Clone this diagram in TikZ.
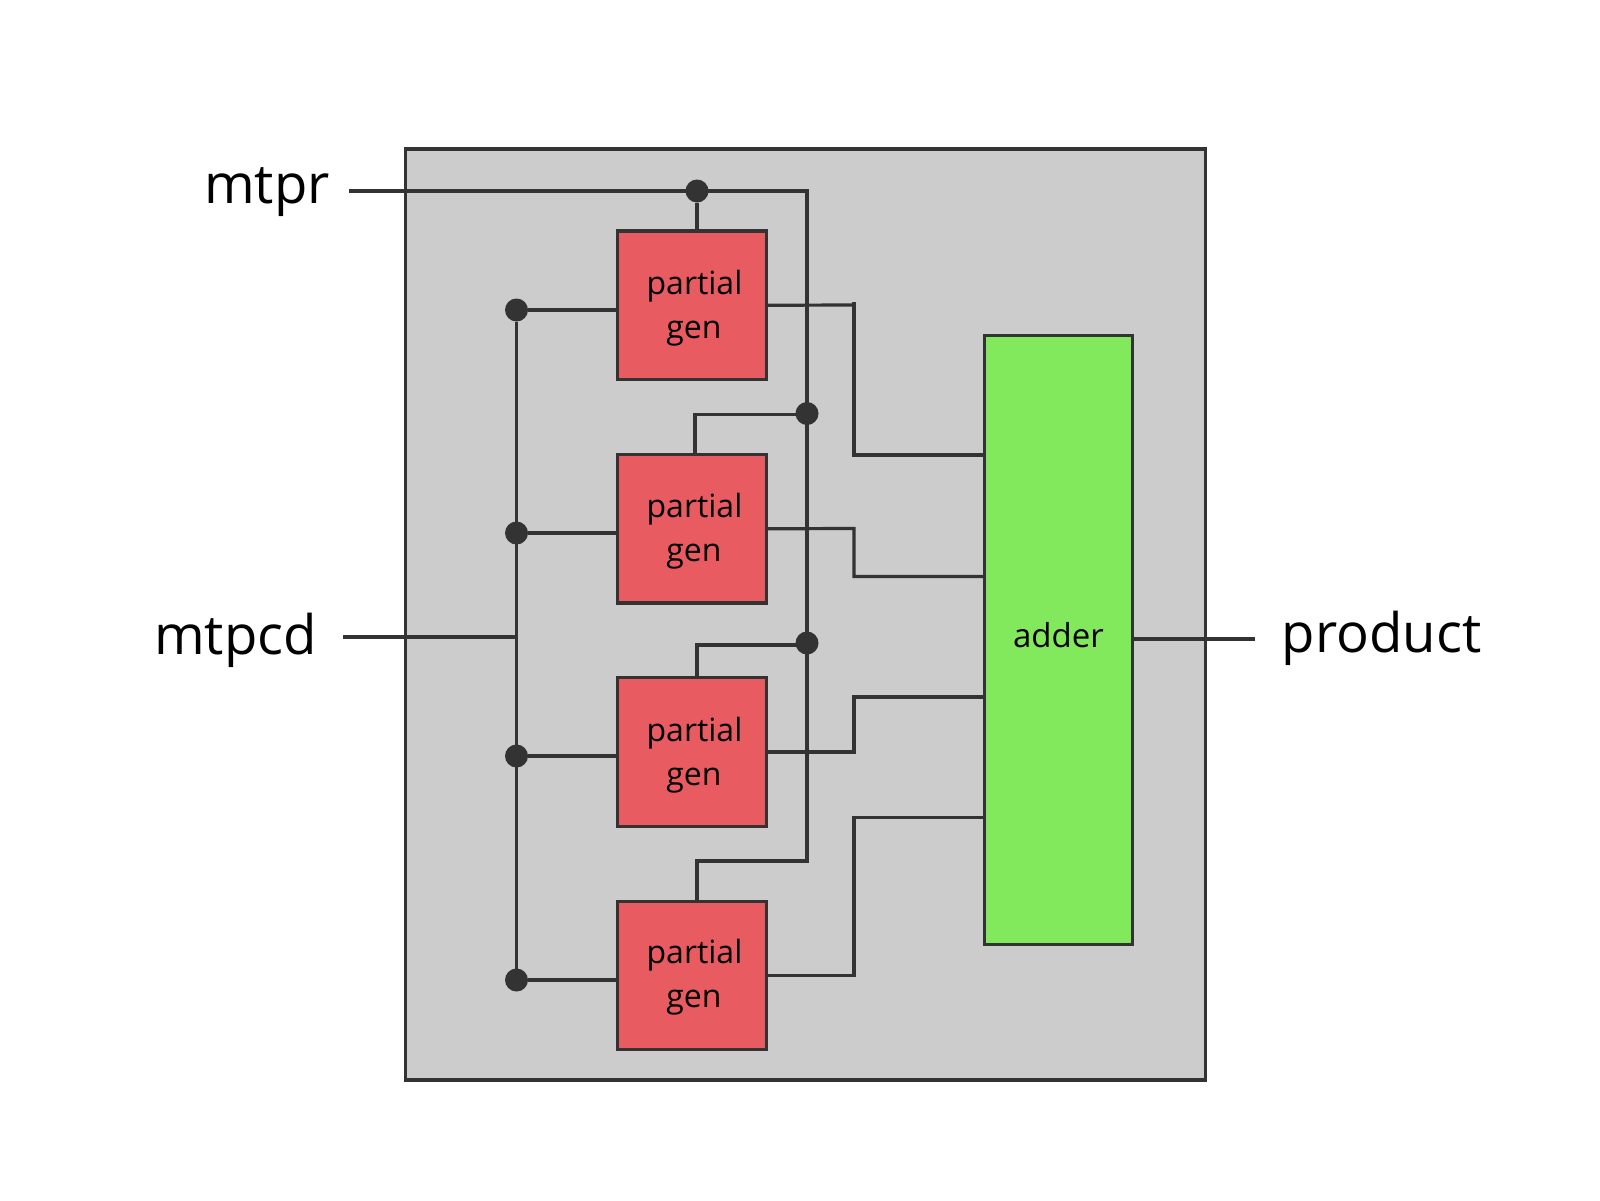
\documentclass[tikz,border=0pt]{standalone}
\usepackage{fontspec}
\setmainfont{Open Sans}
\definecolor{wirec}{HTML}{333333}
\definecolor{panelc}{HTML}{CCCCCC}
\definecolor{redc}{HTML}{E85C61}
\definecolor{greenc}{HTML}{82E85C}
\newcommand{\partgen}[1]{\rule{0pt}{#1}\hspace*{5pt}partial\\\hspace*{4pt}gen}
\tikzset{
  wire/.style={draw=wirec,line width=3.2pt},
  blockbox/.style={draw=wirec,line width=3.2pt,inner sep=0pt,outer sep=0pt,align=center},
  partbox/.style={blockbox,fill=redc,minimum width=148.5pt,minimum height=148.5pt,font=\fontsize{32}{44}\selectfont},
  dotn/.style={circle,fill=wirec,inner sep=0pt,outer sep=0pt,minimum size=23pt},
  biglabel/.style={font=\fontsize{54.5}{55}\selectfont,inner sep=0pt,text=black}
}
\begin{document}
\begin{tikzpicture}[x=1pt,y=-1pt]
\useasboundingbox (0,0) rectangle (1600,1200);
\fill[white] (0,0) rectangle (1600,1200);
\node[blockbox,fill=panelc,minimum width=800pt,minimum height=931pt] (panel) at (805.25,614.5) {};
% coordinates
\coordinate (mtprin) at (349,191);
\coordinate (mtprend) at (807,191);
\coordinate (mtpcdin) at (343,637);
\coordinate (mtpcdbus) at (516.5,637);
\coordinate (prodout) at (1255,639);
\coordinate (v4) at (807,861);
\coordinate (h4) at (697,861);
\coordinate (b2c) at (695,414.5);
\coordinate (b3c) at (697,645);
\coordinate (o1a) at (854,305);
\coordinate (o1b) at (854,302);
\coordinate (o1c) at (854,455);
\coordinate (o2a) at (854,528.5);
\coordinate (o2c) at (854,576.5);
\coordinate (o3a) at (854,752);
\coordinate (o3c) at (854,697);
\coordinate (o4a) at (854,975.5);
\coordinate (o4c) at (854,817.5);
\node[dotn] (dt) at (697,191) {};
\node[dotn] (dr2) at (807,413.5) {};
\node[dotn] (dr3) at (807,643) {};
\node[dotn] (dl1) at (516.5,310) {};
\node[dotn] (dl2) at (516.5,533) {};
\node[dotn] (dl3) at (516.5,756) {};
\node[dotn] (dl4) at (516.5,980) {};
\node[partbox] (p1) at (692,305.25) {\partgen{29.5pt}};
\node[partbox] (p2) at (692,528.75) {\partgen{29.5pt}};
\node[partbox] (p3) at (692,752) {\partgen{31pt}};
\node[partbox] (p4) at (692,975.5) {\partgen{28pt}};
\node[blockbox,fill=greenc,minimum width=147.5pt,minimum height=608.5pt,font=\fontsize{33}{36}\selectfont] (adder) at (1058.5,640) {\rule[-10pt]{0pt}{10pt}adder};
% wires
\draw[wire] (mtprin) -- (mtprend) -- (v4) -- (h4) -- (h4 |- p4.north);
\draw[wire] (dt) -- (dt |- p1.north);
\draw[wire] (dr2 |- b2c) -- (b2c) -- (b2c |- p2.north);
\draw[wire] (dr3 |- b3c) -- (b3c) -- (b3c |- p3.north);
\draw[wire] (dl1) -- (dl4);
\draw[wire] (mtpcdin) -- (mtpcdbus);
\draw[wire] (dl1) -- (dl1 -| p1.west);
\draw[wire] (dl2) -- (dl2 -| p2.west);
\draw[wire] (dl3) -- (dl3 -| p3.west);
\draw[wire] (dl4) -- (dl4 -| p4.west);
\draw[wire] (p1.east) -- (o1a);
\draw[wire] (o1b) -- (o1c) -- (o1c -| adder.west);
\draw[wire] (p2.east) -- (o2a) -- (o2c) -- (o2c -| adder.west);
\draw[wire] (p3.east) -- (o3a) -- (o3c) -- (o3c -| adder.west);
\draw[wire] (p4.east) -- (o4a) -- (o4c) -- (o4c -| adder.west);
\draw[wire] (prodout -| adder.east) -- (prodout);
% labels
\node[biglabel,anchor=base] (mtpr) at (267,203) {mtpr};
\node[biglabel,anchor=base] (mtpcd) at (235.5,654.5) {mtpcd};
\node[biglabel,anchor=base] (product) at (1381.5,652) {product};
\end{tikzpicture}
\end{document}
